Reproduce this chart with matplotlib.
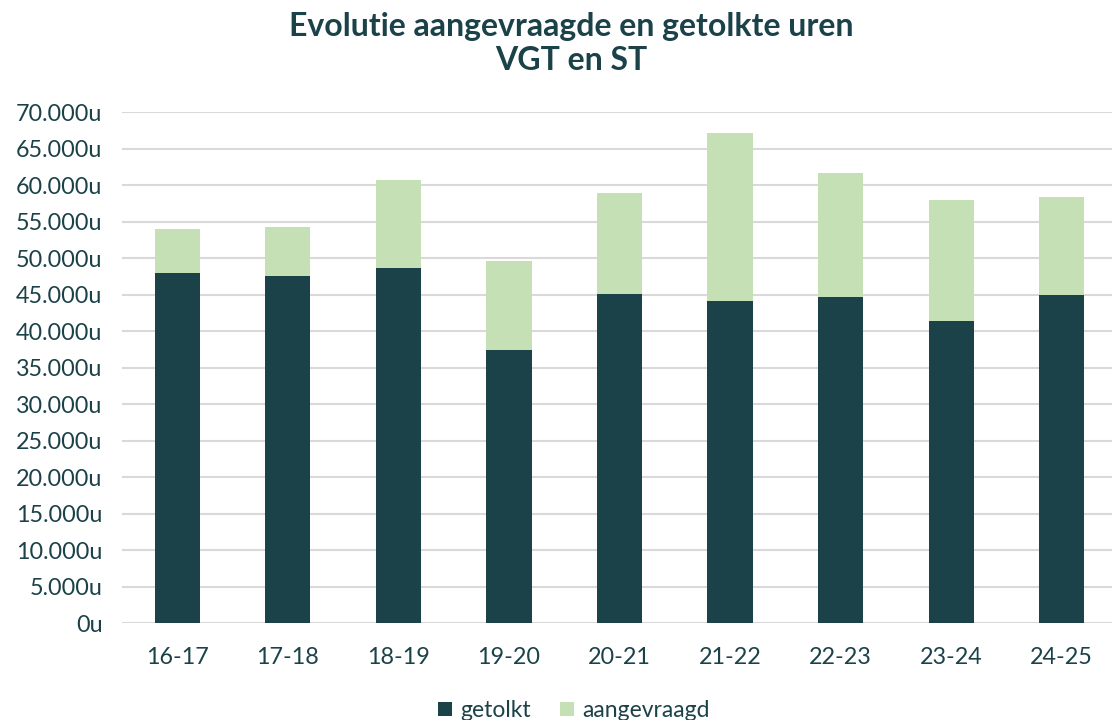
import numpy as np
import matplotlib.pyplot as plt
from matplotlib.ticker import FuncFormatter

plt.rcParams['font.family'] = ['Lato', 'DejaVu Sans']

jaren = ["16-17", "17-18", "18-19", "19-20", "20-21", "21-22", "22-23", "23-24", "24-25"]
getolkt = [47950, 47600, 48600, 37450, 45100, 44100, 44600, 41400, 44900]
aangevraagd_totaal = [54000, 54300, 60700, 49600, 58850, 67100, 61600, 57900, 58300]
aangevraagd = [a - g for a, g in zip(aangevraagd_totaal, getolkt)]

donker = "#1B4249"
licht = "#C5E0B4"
tekst = "#1B4249"

fig = plt.figure(figsize=(11.12, 7.2), dpi=100)
ax = fig.add_axes([0.1097, 0.1347, 0.8948, 0.7097])

x = np.arange(len(jaren))
ax.bar(x, getolkt, width=0.41, color=donker, label="getolkt", zorder=3)
ax.bar(x, aangevraagd, width=0.41, bottom=getolkt, color=licht, label="aangevraagd", zorder=3)

ax.set_xlim(-0.5, len(jaren) - 0.5)
ax.set_ylim(0, 70000)
ax.set_yticks(np.arange(0, 70001, 5000))
ax.yaxis.set_major_formatter(FuncFormatter(lambda v, p: f"{int(v):,}".replace(",", ".") + "u"))
ax.set_xticks(x)
ax.set_xticklabels(jaren)
ax.grid(axis="y", color="#D9D9D9", linewidth=1.5, zorder=0)
for s in ax.spines.values():
    s.set_visible(False)
ax.tick_params(axis="both", length=0, labelsize=16.8, colors=tekst)
ax.tick_params(axis="y", pad=14)
ax.tick_params(axis="x", pad=17)

fig.text(0.514, 0.983, "Evolutie aangevraagde en getolkte uren\nVGT en ST", ha="center", va="top",
         fontsize=23, fontweight="bold", color=tekst, linespacing=1.2)

fig.legend(loc="lower center", bbox_to_anchor=(0.516, -0.03), ncol=2, frameon=False,
           fontsize=16.5, labelcolor=tekst, handlelength=0.6, handleheight=0.6,
           handletextpad=0.35, columnspacing=1.3)

fig.savefig("out.png", dpi=100)
